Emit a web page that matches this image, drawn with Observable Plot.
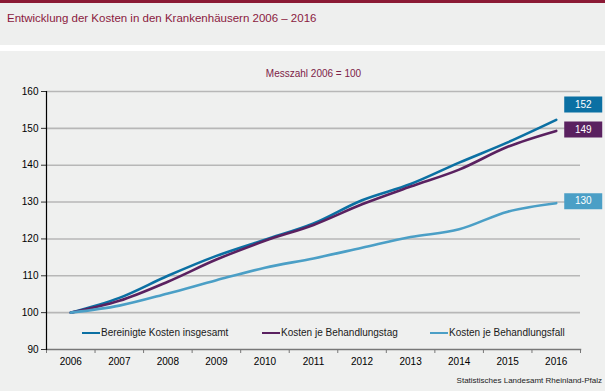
<!DOCTYPE html>
<html><head><meta charset="utf-8">
<script src="https://cdn.jsdelivr.net/npm/d3@7"></script>
<script src="https://cdn.jsdelivr.net/npm/@observablehq/plot@0.6"></script>
<style>
html,body{margin:0;padding:0;background:#fff;}
body{width:605px;height:391px;position:relative;overflow:hidden;font-family:"Liberation Sans",Arial,sans-serif;}
#bar{position:absolute;left:0;top:0;width:605px;height:3px;background:#8b1a35;}
#head{position:absolute;left:0;top:3px;width:605px;height:42px;background:#eeefee;}
#title{position:absolute;left:7px;top:9px;font-size:11.5px;color:#8b1a3e;white-space:nowrap;}
#panel{position:absolute;left:0;top:51px;width:605px;height:340px;background:#eff0ef;}
#legend{position:absolute;left:0;top:276px;width:605px;height:14px;font-size:10px;color:#1a1a1a;}
.item{position:absolute;top:0;white-space:nowrap;display:flex;align-items:center;}
.sw{width:18px;height:2px;margin-right:1px;}
#source{position:absolute;right:3px;top:376px;font-size:8px;color:#222;white-space:nowrap;}
</style></head>
<body>
<div id="bar"></div>
<div id="head"><div id="title">Entwicklung der Kosten in den Krankenhäusern 2006 – 2016</div></div>
<div id="panel"><div id="chart"></div><div id="legend"></div></div>
<div id="source">Statistisches Landesamt Rheinland-Pfalz</div>
<script>
const years = [2006, 2007, 2008, 2009, 2010, 2011, 2012, 2013, 2014, 2015, 2016];
const seriesNames = ["Bereinigte Kosten insgesamt", "Kosten je Behandlungstag", "Kosten je Behandlungsfall"];
const bereinigt = [100, 104, 110, 115.4, 119.8, 124.2, 130.5, 134.9, 140.7, 146.2, 152.3];
const jeTag = [100, 103.2, 108.4, 114.4, 119.5, 123.8, 129.4, 134.2, 138.8, 145.0, 149.3];
const jeFall = [100, 101.9, 105.2, 108.8, 112.2, 114.7, 117.6, 120.5, 122.6, 127.4, 129.7];
const colors = ["#0b70a3", "#5a2160", "#4b9fc6"];
const yTicks = [90, 100, 110, 120, 130, 140, 150, 160];
const subtitle = "Messzahl 2006 = 100";

const seriesValues = [bereinigt, jeTag, jeFall];
const data = seriesNames.flatMap((s, i) => years.map((y, j) => ({series: s, year: y, value: seriesValues[i][j]})));
const last = seriesNames.map((s, i) => ({series: s, year: years[years.length - 1], value: seriesValues[i][years.length - 1]}));
const bounds = years.map(y => y - 0.5).concat([years[years.length - 1] + 0.5]);
const labelShift = [-15.5, -1.5, -2];

const box = {draw(ctx) { ctx.rect(-19, -8, 38, 16); }};

const chart = Plot.plot({
  width: 605, height: 340,
  marginTop: 40, marginBottom: 42, marginLeft: 46, marginRight: 25,
  style: {background: "transparent", fontFamily: "Liberation Sans, Arial, sans-serif", fontSize: "10px", color: "#000"},
  x: {type: "linear", domain: [bounds[0], bounds[bounds.length - 1]]},
  y: {domain: [90, 160]},
  color: {domain: seriesNames, range: colors},
  marks: [
    Plot.ruleY(yTicks.slice(1), {stroke: "#b7b7b7", strokeWidth: 1.6}),
    Plot.axisY(yTicks, {tickSize: 5, tickPadding: 3, stroke: "#333", fill: "#000", label: null}),
    Plot.axisX(years, {tickSize: 0, tickPadding: 8, tickFormat: d => String(d), fill: "#000", label: null}),
    Plot.axisX(bounds, {tickSize: 4, tickFormat: () => "", stroke: "#777", label: null}),
    Plot.frame({anchor: "bottom", stroke: "#777", strokeWidth: 1.5}),
    Plot.frame({anchor: "left", stroke: "#000", strokeWidth: 1.2}),
    Plot.line(data, {x: "year", y: "value", stroke: "series", z: "series", curve: "monotone-x", strokeWidth: 2.6}),
    ...last.map((d, i) => Plot.dot([d], {x: "year", y: "value", symbol: box, fill: colors[i], stroke: "none", dx: 27, dy: labelShift[i], r: 8})),
    ...last.map((d, i) => Plot.text([d], {x: "year", y: "value", text: d => String(Math.round(d.value)), fill: "#fff", dx: 27, dy: labelShift[i], fontSize: 10})),
    Plot.text([subtitle], {frameAnchor: "top", dy: -22, text: d => d, fill: "#7d2248", fontSize: 10})
  ]
});
document.getElementById("chart").appendChild(chart);

const legendX = [82, 262, 430];
const legend = document.getElementById("legend");
seriesNames.forEach((s, i) => {
  const it = document.createElement("div");
  it.className = "item";
  it.style.left = legendX[i] + "px";
  it.innerHTML = `<span class="sw" style="background:${colors[i]}"></span><span>${s}</span>`;
  legend.appendChild(it);
});
</script>
</body></html>
